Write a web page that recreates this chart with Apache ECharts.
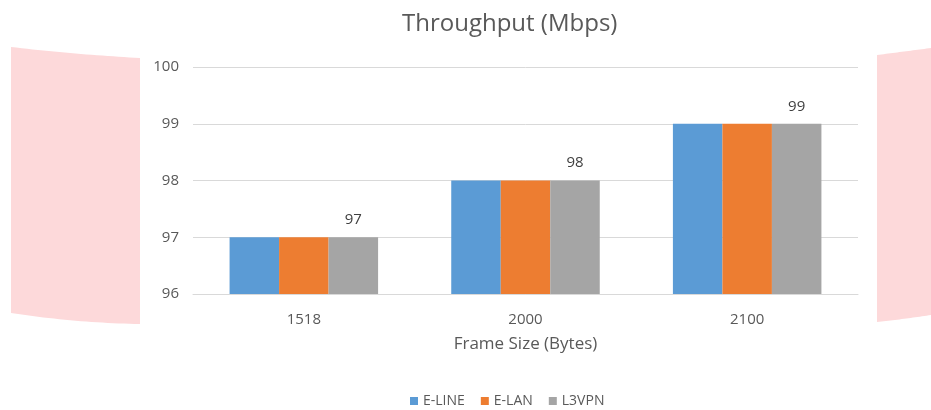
<!DOCTYPE html>
<html><head><meta charset="utf-8">
<script src="https://cdn.jsdelivr.net/npm/echarts@6/dist/echarts.min.js"></script>
<style>html,body{margin:0;padding:0;background:#fff}#c{width:931px;height:410px}</style>
</head><body><div id="c"></div>
<script>
const categories = ['1518', '2000', '2100'];
const eLine = [97, 98, 99];
const eLan = [97, 98, 99];
const l3vpn = [97, 98, 99];
const yTicks = [96, 97, 98, 99, 100];

const FONT = '"Open Sans", "Noto Sans", sans-serif';

// decorative background band with gently curved top/bottom edges (sag > 0 bends downward)
function band(x0, x1, yTop0, yTop1, yBot0, yBot1, sagTop, sagBot) {
  const pts = [];
  const n = 24;
  for (let i = 0; i <= n; i++) {
    const t = i / n;
    pts.push([x0 + (x1 - x0) * t, yTop0 + (yTop1 - yTop0) * t + sagTop * 4 * t * (1 - t)]);
  }
  for (let i = n; i >= 0; i--) {
    const t = i / n;
    pts.push([x0 + (x1 - x0) * t, yBot0 + (yBot1 - yBot0) * t + sagBot * 4 * t * (1 - t)]);
  }
  return pts;
}

const chart = echarts.init(document.getElementById('c'));
chart.setOption({
  animation: false,
  backgroundColor: '#fff',
  graphic: [
    { type: 'polygon', z: -10, silent: true,
      shape: { points: band(11, 140, 47, 58, 313, 324, 1, 2.2) },
      style: { fill: '#fdd9da' } },
    { type: 'polygon', z: -10, silent: true,
      shape: { points: band(877, 931, 55, 48, 322, 315, 0, 0.3) },
      style: { fill: '#fdd9da' } }
  ],
  title: {
    text: 'Throughput (Mbps)', left: 397, top: 7,
    textStyle: { fontFamily: FONT, fontSize: 24, fontWeight: 'normal', color: '#595959' }
  },
  legend: {
    bottom: -3, left: 405, itemWidth: 8, itemHeight: 8, itemGap: 16,
    icon: 'rect',
    textStyle: { fontFamily: FONT, fontSize: 14, color: '#595959', padding: [0, 0, 0, 0] },
    data: ['E-LINE', 'E-LAN', 'L3VPN']
  },
  grid: { left: 193, right: 73, top: 67, bottom: 116 },
  xAxis: {
    type: 'category', data: categories,
    name: 'Frame Size (Bytes)', nameLocation: 'middle', nameGap: 42,
    nameTextStyle: { fontFamily: FONT, fontSize: 17, color: '#595959' },
    axisLine: { lineStyle: { color: '#d9d9d9' } },
    axisTick: { show: false },
    axisLabel: { fontFamily: FONT, fontSize: 15, color: '#595959', margin: 18 }
  },
  yAxis: {
    type: 'value', min: yTicks[0], max: yTicks[yTicks.length - 1], interval: 1,
    axisLine: { show: false }, axisTick: { show: false },
    splitLine: { lineStyle: { color: '#d9d9d9' } },
    axisLabel: { fontFamily: FONT, fontSize: 15, color: '#595959', margin: 14 }
  },
  series: [
    { name: 'E-LINE', type: 'bar', data: eLine, barGap: '0%', barCategoryGap: '33%',
      itemStyle: { color: '#5b9bd5' } },
    { name: 'E-LAN', type: 'bar', data: eLan, barGap: '0%', barCategoryGap: '33%',
      itemStyle: { color: '#ed7d31' } },
    { name: 'L3VPN', type: 'bar', data: l3vpn, barGap: '0%', barCategoryGap: '33%',
      itemStyle: { color: '#a5a5a5' },
      label: { show: true, position: 'top', distance: 10,
        fontFamily: FONT, fontSize: 15, color: '#404040' } }
  ]
});
</script></body></html>
